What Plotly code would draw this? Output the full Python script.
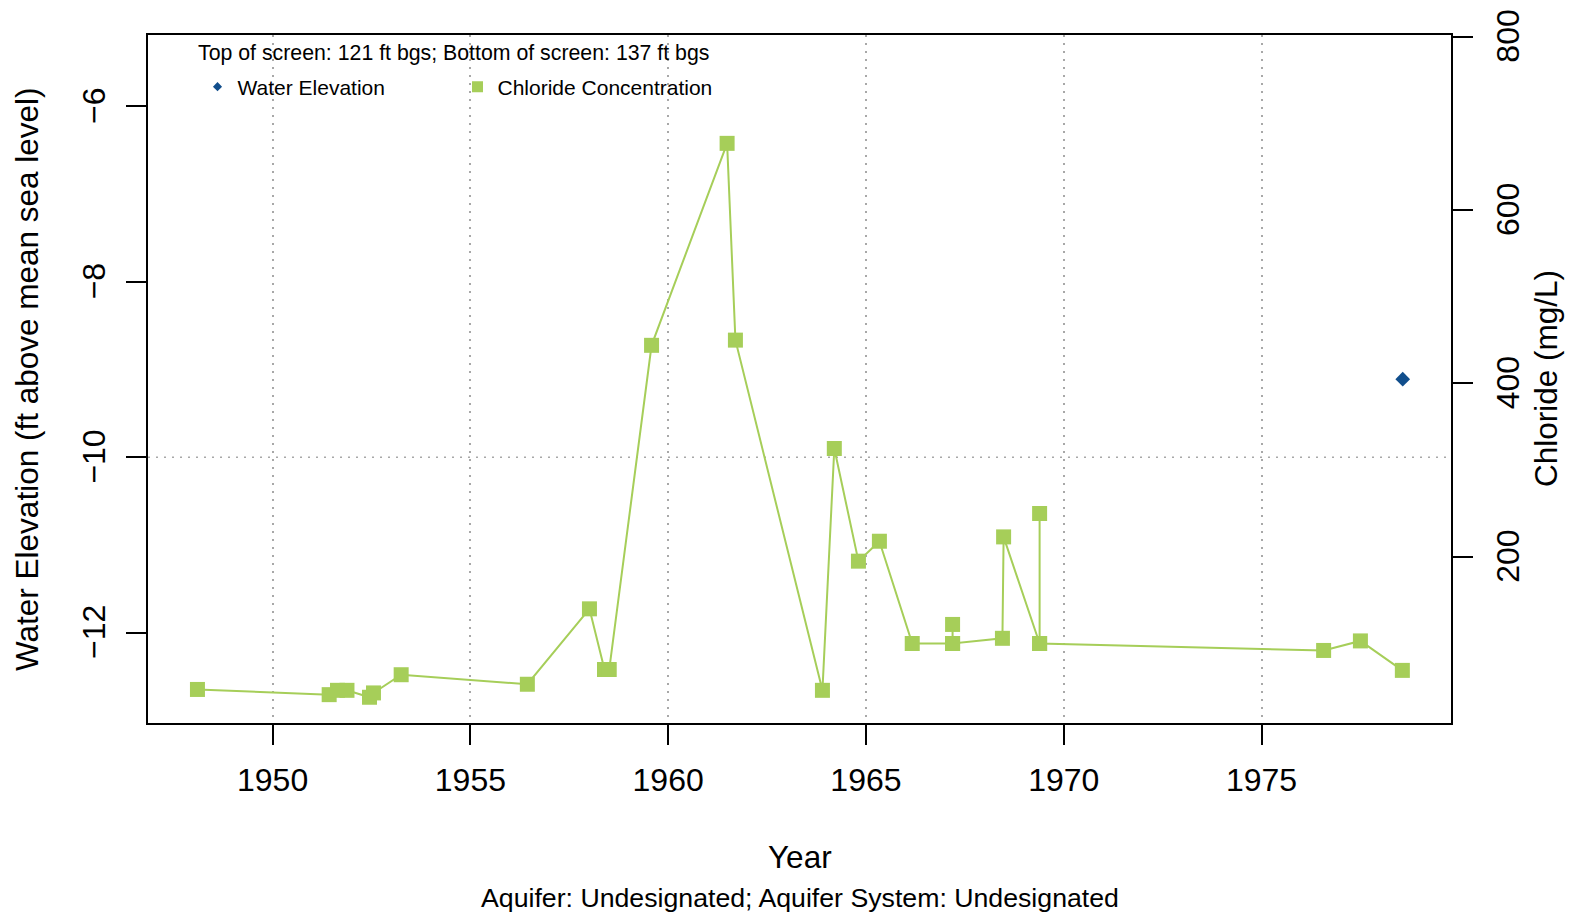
import plotly.graph_objects as go

# ---------------- data ----------------
chloride_years = [1948.10, 1951.43, 1951.64, 1951.88, 1952.45, 1952.55, 1953.25,
                  1956.44, 1958.01, 1958.39, 1958.51, 1959.58, 1961.49, 1961.70,
                  1963.90, 1964.20, 1964.81, 1965.34, 1966.17, 1967.19, 1967.19,
                  1967.19, 1968.45, 1968.48, 1969.39, 1969.39, 1969.39,
                  1976.57, 1977.50, 1978.56]
chloride_mgL = [47, 41, 46, 46, 38, 43, 64,
                53, 140, 70, 70, 444, 677, 450,
                46, 325, 195, 218, 100, 100, 122,
                100, 106, 223, 100, 250, 100,
                92, 103, 69]

water_years = [1978.57]
water_elev_ft = [-9.11]

x_ticks = [1950, 1955, 1960, 1965, 1970, 1975]
left_ticks = [-12, -10, -8, -6]
left_ticktext = ["\u221212", "\u221210", "\u22128", "\u22126"]
right_ticks = [200, 400, 600, 800]
hgrid_levels = [-10]

x_range = [1946.85, 1979.79]
left_range = [-13.03, -5.185]
right_range = [8.3, 802]

# ---------------- style / layout ----------------
FONT = "Liberation Sans, Arial, Helvetica, sans-serif"
GREEN = "rgb(166,206,89)"
BLUE = "rgb(17,78,140)"
GRID = "#a8a8a8"

PAGE_OFF = 8                      # default body margin of the html page
W, H = 1580 - PAGE_OFF, 913 - PAGE_OFF
# plot area in page pixels
PX0, PX1, PY0, PY1 = 148, 1451, 35, 723
ML, MR = PX0 - PAGE_OFF, 1580 - PX1
MT, MB = PY0 - PAGE_OFF, 913 - PY1
PW, PH = PX1 - PX0, PY1 - PY0


def px_x(px):
    return (px - PX0) / PW


def px_y(py):
    return (PY1 - py) / PH


fig = go.Figure()

fig.add_trace(go.Scatter(
    x=chloride_years, y=chloride_mgL, yaxis="y2", mode="lines+markers",
    line=dict(color=GREEN, width=2),
    marker=dict(symbol="square", size=15, color=GREEN),
    showlegend=False, name="Chloride Concentration"))

fig.add_trace(go.Scatter(
    x=water_years, y=water_elev_ft, yaxis="y", mode="markers",
    marker=dict(symbol="diamond", size=11.3, color=BLUE),
    showlegend=False, name="Water Elevation"))

# legend-only entries
fig.add_trace(go.Scatter(
    x=[None], y=[None], mode="markers", name="Water Elevation",
    marker=dict(symbol="diamond", size=7, color=BLUE)))
fig.add_trace(go.Scatter(
    x=[None], y=[None], mode="markers", name="Chloride Concentration",
    marker=dict(symbol="square", size=11, color=GREEN)))

for lvl in hgrid_levels:
    fig.add_shape(type="line", xref="paper", x0=0, x1=1, yref="y", y0=lvl, y1=lvl,
                  line=dict(color=GRID, width=1.5, dash="2px,6px"), layer="below")

axis_common = dict(
    showline=True, linecolor="black", linewidth=2,
    ticks="outside", ticklen=20, tickwidth=2, tickcolor="black",
    tickfont=dict(family=FONT, size=32, color="black"),
    zeroline=False, ticklabeloverflow="allow", automargin=False,
)

fig.update_layout(
    width=W, height=H, autosize=False,
    margin=dict(l=ML, r=MR, t=MT, b=MB, pad=0, autoexpand=False),
    paper_bgcolor="white", plot_bgcolor="white",
    font=dict(family=FONT, color="black"),
    xaxis=dict(range=x_range, tickmode="array", tickvals=x_ticks,
               showgrid=True, gridcolor=GRID, gridwidth=1.5, griddash="2px,6px",
               mirror=True, ticklabelstandoff=8, **axis_common),
    yaxis=dict(range=left_range, tickmode="array", tickvals=left_ticks,
               ticktext=left_ticktext, tickangle=-90, showgrid=False,
               mirror=True, ticklabelstandoff=8, ticklabelshift=4, **axis_common),
    yaxis2=dict(range=right_range, tickmode="array", tickvals=right_ticks,
                overlaying="y", side="right", tickangle=-90, showgrid=False,
                ticklabelstandoff=8, ticklabelshift=4, **axis_common),
    legend=dict(orientation="h", x=px_x(197.5), y=px_y(87), xanchor="left",
                yanchor="middle", font=dict(family=FONT, size=21, color="black"),
                entrywidth=215, bgcolor="rgba(0,0,0,0)", itemsizing="trace"),
    annotations=[
        dict(text="Top of screen: 121 ft bgs; Bottom of screen: 137 ft bgs",
             xref="paper", yref="paper", x=px_x(453), y=px_y(53.5),
             xanchor="center", yanchor="middle", showarrow=False,
             font=dict(family=FONT, size=21.3, color="black")),
        dict(text="Water Elevation (ft above mean sea level)",
             xref="paper", yref="paper", x=px_x(27), y=px_y(379),
             xanchor="center", yanchor="middle", textangle=-90, showarrow=False,
             font=dict(family=FONT, size=31.5, color="black")),
        dict(text="Chloride (mg/L)",
             xref="paper", yref="paper", x=px_x(1546), y=px_y(379),
             xanchor="center", yanchor="middle", textangle=-90, showarrow=False,
             font=dict(family=FONT, size=31.5, color="black")),
        dict(text="Year",
             xref="paper", yref="paper", x=px_x(800), y=px_y(857),
             xanchor="center", yanchor="middle", showarrow=False,
             font=dict(family=FONT, size=31.5, color="black")),
        dict(text="Aquifer: Undesignated; Aquifer System: Undesignated",
             xref="paper", yref="paper", x=px_x(800), y=px_y(898),
             xanchor="center", yanchor="middle", showarrow=False,
             font=dict(family=FONT, size=26.7, color="black")),
    ],
)

fig.write_html("out.html")
